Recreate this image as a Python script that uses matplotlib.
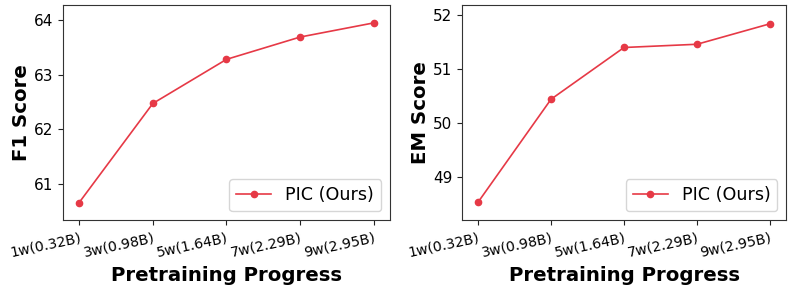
import matplotlib
matplotlib.use("Agg")
import matplotlib.pyplot as plt

categories = ["1w(0.32B)", "3w(0.98B)", "5w(1.64B)", "7w(2.29B)", "9w(2.95B)"]
f1_scores = [60.65, 62.47, 63.28, 63.69, 63.95]
em_scores = [48.53, 50.44, 51.40, 51.46, 51.84]
series_label = "PIC (Ours)"
color = "#e63946"

fig = plt.figure(figsize=(7.93, 2.89), dpi=100)
ax1 = fig.add_axes([0.0794, 0.2388, 0.4124, 0.7442])
ax2 = fig.add_axes([0.5826, 0.2388, 0.4086, 0.7442])

specs = [(ax1, f1_scores, "F1 Score", (60.33, 64.28), [61, 62, 63, 64]),
         (ax2, em_scores, "EM Score", (48.2, 52.19), [49, 50, 51, 52])]
x = list(range(len(categories)))
for ax, vals, ylab, ylim, yt in specs:
    ax.plot(x, vals, color=color, marker="o", markersize=4.5, linewidth=1.2, label=series_label)
    ax.set_xlim(-0.22, 4.22)
    ax.set_ylim(*ylim)
    ax.set_yticks(yt)
    ax.set_xticks(x)
    ax.set_xticklabels(categories, rotation=12, ha="right", rotation_mode="anchor")
    ax.tick_params(axis="y", labelsize=11, colors="#222222", labelcolor="black")
    ax.tick_params(axis="x", labelsize=10.2, colors="#222222", labelcolor="black", pad=4.5)
    ax.set_ylabel(ylab, fontsize=14.2, fontweight="bold", labelpad=2)
    ax.set_xlabel("Pretraining Progress", fontsize=14.2, fontweight="bold", labelpad=4.5)
    for s in ax.spines.values():
        s.set_color("#333333")
    ax.legend(loc="lower right", fontsize=12.6, frameon=True, fancybox=True,
              markerscale=1.0, borderaxespad=0.5)

fig.savefig("out.png", dpi=100)
